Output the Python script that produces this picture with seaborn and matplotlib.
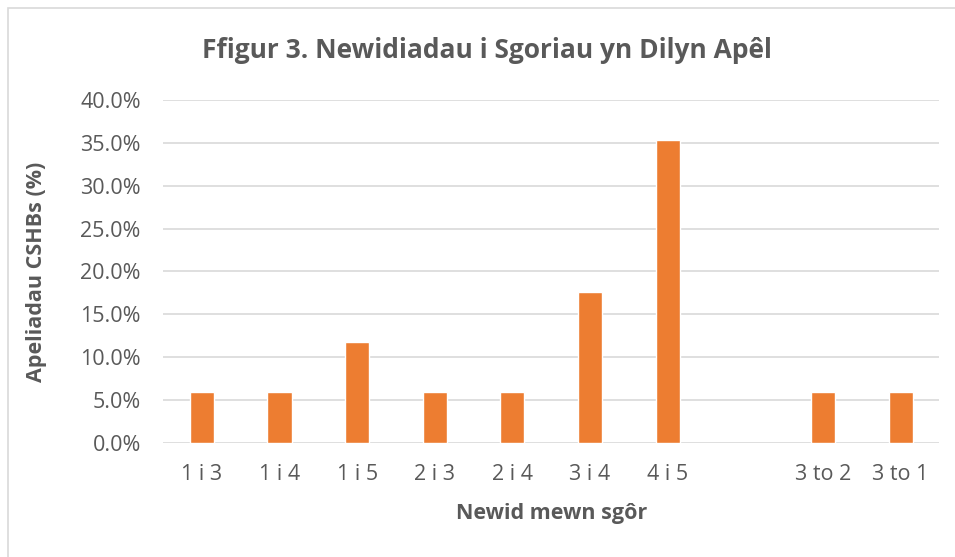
import numpy as np
import pandas as pd
import matplotlib.pyplot as plt
from matplotlib.patches import Rectangle
from matplotlib.ticker import PercentFormatter
import seaborn as sns

categories = ["1 i 3", "1 i 4", "1 i 5", "2 i 3", "2 i 4", "3 i 4", "4 i 5", " ", "3 to 2", "3 to 1"]
values = [5.9, 5.9, 11.8, 5.9, 5.9, 17.6, 35.3, np.nan, 5.9, 5.9]

TEXT = "#595959"
ORANGE = "#ED7D31"
GRID = "#D9D9D9"

sns.set_theme(style="white")
plt.rcParams["font.family"] = ["Open Sans", "DejaVu Sans"]

df = pd.DataFrame({"change": categories, "pct": values})

fig = plt.figure(figsize=(9.55, 5.57), dpi=100)
fig.patches.append(Rectangle((8 / 955, -0.01), 1.0, 1 - 8 / 557 + 0.01,
                             transform=fig.transFigure, fill=False,
                             edgecolor="#D9D9D9", linewidth=1.2))
ax = fig.add_axes([0.1707, 0.2047, 0.813, 0.616])

sns.barplot(data=df, x="change", y="pct", color=ORANGE, saturation=1,
            width=0.31, ax=ax, order=categories)

ax.set_ylim(0, 40)
ax.set_yticks(np.arange(0, 41, 5))
ax.yaxis.set_major_formatter(PercentFormatter(decimals=1))
ax.grid(axis="y", color=GRID, linewidth=1.2)
ax.set_axisbelow(True)
for s in ax.spines.values():
    s.set_visible(False)
ax.tick_params(axis="both", length=0, colors=TEXT, labelsize=15.5)
ax.tick_params(axis="x", pad=15)
ax.tick_params(axis="y", pad=16)

ax.set_xlabel("Newid mewn sgôr", fontsize=15.5, fontweight="bold", color=TEXT, labelpad=13)
ax.set_ylabel("Apeliadau CSHBs (%)", fontsize=15.5, fontweight="bold", color=TEXT, labelpad=24)
fig.text(0.51, 0.91, "Ffigur 3. Newidiadau i Sgoriau yn Dilyn Apêl",
         ha="center", va="center", fontsize=19, fontweight="bold", color=TEXT)

fig.savefig("out.png", dpi=100)
